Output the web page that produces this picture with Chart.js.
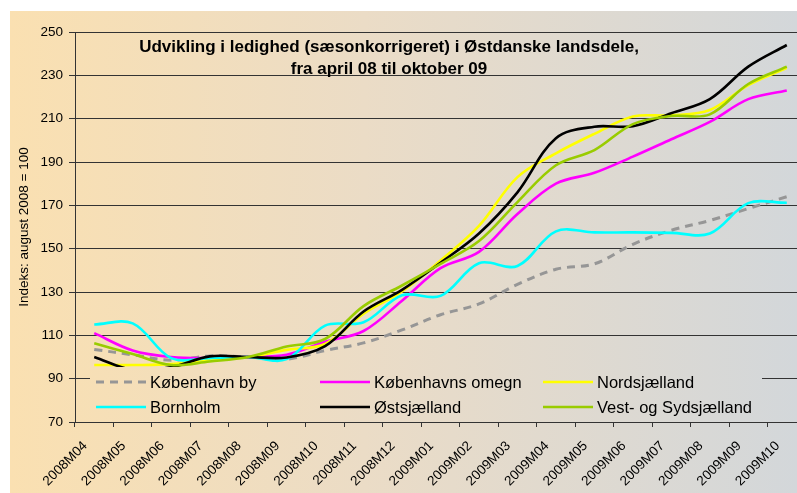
<!DOCTYPE html>
<html><head><meta charset="utf-8">
<script src="https://cdn.jsdelivr.net/npm/chart.js@4/dist/chart.umd.min.js"></script>
<style>
html,body{margin:0;padding:0;overflow:hidden;background:#fff;width:797px;height:493px}
#wrap{position:absolute;left:0;top:0;width:810px;height:493px}
canvas{display:block}
</style></head><body>
<div id="wrap"><canvas id="c" width="810" height="493" style="width:810px;height:493px"></canvas></div>
<script>
const categories = ['2008M04','2008M05','2008M06','2008M07','2008M08','2008M09','2008M10','2008M11','2008M12','2009M01','2009M02','2009M03','2009M04','2009M05','2009M06','2009M07','2009M08','2009M09','2009M10'];
const seriesNames = ['København by','Københavns omegn','Nordsjælland','Bornholm','Østsjælland','Vest- og Sydsjælland'];
const kobenhavnBy      = [103.5,101,98.5,100.5,100,99,103,106.5,112.5,119.5,124.5,133.5,140.5,143,152,158.5,163,168.5,174];
const kobenhavnsOmegn  = [111,103,100,99.5,100,101,107,112,126,141,148.5,166,180,185,192.5,200.5,208.5,219,223];
const nordsjaelland    = [96.3,96.3,96.7,98.8,100,103.3,106,120,130.3,144.5,160.5,183,194,203,211,211.5,214,225.5,233.5];
const bornholm         = [115,115.5,99.5,99.5,100,99,114.5,116,128.5,128.2,143.3,142,158,157.5,157.5,157.3,157,171,171.2];
const ostsjaelland     = [100,94,95.3,100.3,100,99.8,105,121,131,143.5,157,176,201,206.3,206.5,212.5,219,234,244];
const vestSydsjaelland = [106.3,101.4,96.3,97.9,100,104.8,108.3,123.5,133,143,153.5,171.5,188.5,195.5,207.5,211.2,212,226,234];
const yTicks = {min:70, max:250, step:20};
const titleLines = ['Udvikling i ledighed (sæsonkorrigeret) i Østdanske landsdele,','fra april 08 til oktober 09'];
const yTitle = 'Indeks: august 2008 = 100';

const seriesValues = [kobenhavnBy,kobenhavnsOmegn,nordsjaelland,bornholm,ostsjaelland,vestSydsjaelland];
const seriesColors = ['#969696','#FF00FF','#FFFF00','#00FFFF','#000000','#99CC00'];
const FONT = '"Liberation Sans", Arial, sans-serif';

function bgGradient(ctx){
  const g = ctx.createLinearGradient(10,0,797,0);
  g.addColorStop(0,'#FAE0B1');
  g.addColorStop(0.45,'#EBDCC6');
  g.addColorStop(1,'#D3D7DA');
  return g;
}

const bgPlugin = {
  id:'bg',
  beforeDraw(chart){
    const ctx = chart.ctx;
    ctx.save();
    ctx.fillStyle = '#fff';
    ctx.fillRect(0,0,chart.width,chart.height);
    ctx.fillStyle = bgGradient(ctx);
    ctx.fillRect(10,11,chart.width-10,chart.height-11);
    ctx.restore();
  }
};

const overlayPlugin = {
  id:'overlay',
  afterDatasetsDraw(chart){
    const ctx = chart.ctx;
    ctx.save();
    // legend box (opaque, same fill as background)
    const lx = 90, ly = 367, lw = 672, lh = 53;
    ctx.fillStyle = bgGradient(ctx);
    ctx.fillRect(lx,ly,lw,lh);
    const colX = [96, 320, 543];
    const rowY = [382, 407];
    ctx.font = '16.5px ' + FONT;
    ctx.textBaseline = 'middle';
    ctx.textAlign = 'left';
    chart.data.datasets.forEach((ds,i)=>{
      const cx = colX[i%3], cy = rowY[Math.floor(i/3)];
      ctx.beginPath();
      ctx.strokeStyle = ds.borderColor;
      ctx.lineWidth = ds.borderWidth;
      ctx.setLineDash(ds.borderDash || []);
      ctx.moveTo(cx,cy); ctx.lineTo(cx+50,cy);
      ctx.stroke();
      ctx.setLineDash([]);
      ctx.fillStyle = '#000';
      ctx.fillText(ds.label, cx+54, cy+1);
    });
    // title
    ctx.font = 'bold 17px ' + FONT;
    ctx.textAlign = 'center';
    ctx.fillStyle = '#000';
    ctx.fillText(titleLines[0], 389, 47);
    ctx.fillText(titleLines[1], 389, 69);
    ctx.restore();
  }
};

const datasets = seriesNames.map((name,i)=>({
  label:name,
  data:seriesValues[i],
  borderColor:seriesColors[i],
  backgroundColor:seriesColors[i],
  borderWidth: i===0 ? 3 : 2.6,
  borderDash: i===0 ? [8,6] : undefined,
  pointRadius:0,
  tension:0.35,
  fill:false,
  order: seriesNames.length - i
}));

new Chart(document.getElementById('c'),{
  type:'line',
  data:{labels:categories, datasets},
  plugins:[bgPlugin, overlayPlugin],
  options:{
    responsive:false,
    animation:false,
    devicePixelRatio:1,
    layout:{padding:{left:10,top:32,right:4,bottom:0}},
    plugins:{legend:{display:false}, title:{display:false}, tooltip:{enabled:false}},
    scales:{
      x:{
        type:'category',
        offset:true,
        grid:{display:true, drawOnChartArea:false, drawTicks:true, tickLength:5, offset:true, color:'#333', tickColor:'#333'},
        border:{display:true, color:'#333', width:1},
        ticks:{autoSkip:false, maxRotation:45, minRotation:45, padding:11, labelOffset:-9, color:'#000', font:{family:FONT, size:13.5}},
        afterFit(s){ s.height = 71; }
      },
      y:{
        min:yTicks.min, max:yTicks.max,
        grid:{color:'#333', tickColor:'#333', tickLength:6, lineWidth:1},
        border:{display:true, color:'#333', width:1},
        ticks:{stepSize:yTicks.step, padding:6, color:'#000', font:{family:FONT, size:13.5}},
        title:{display:true, text:yTitle, color:'#000', font:{family:FONT, size:13.5}, padding:{top:6,bottom:0}},
        afterFit(s){ s.width = 65; }
      }
    }
  }
});
</script>
</body></html>
